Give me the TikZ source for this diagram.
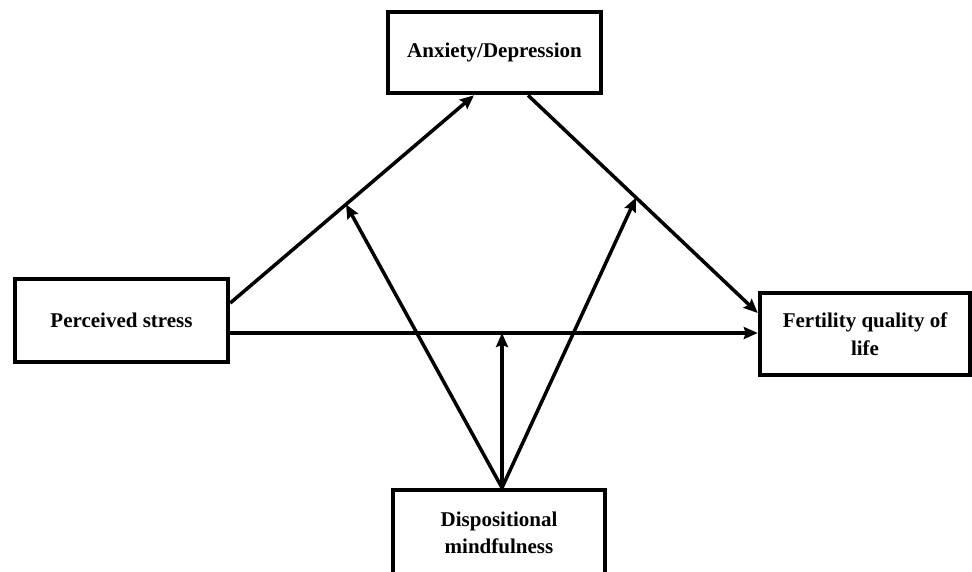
\documentclass[tikz,border=0pt]{standalone}
\usepackage{fontspec}
\setmainfont{Liberation Serif}
\usetikzlibrary{arrows.meta,calc}
\begin{document}
\begin{tikzpicture}[x=1pt,y=-1pt,
  box/.style={draw,line width=4.5pt,rectangle,align=center,inner sep=0pt,
    font=\fontsize{21pt}{27.5pt}\selectfont\bfseries},
  conn/.style={line width=3.5pt,-{Stealth[length=14pt,width=12pt,inset=2pt]}}]
\useasboundingbox[fill=white] (0,0) rectangle (972,571);
\node[box,minimum width=213pt,minimum height=81pt] (ad) at (494.5,52.5) {Anxiety/Depression};
\node[box,minimum width=213pt,minimum height=83pt] (ps) at (121.5,320.5) {Perceived stress};
\node[box,minimum width=210pt,minimum height=82pt] (fq) at (865,334) {Fertility quality of\\life};
\node[box,minimum width=212pt,minimum height=86pt] (dm) at (499,533) {Dispositional\\mindfulness};
% path endpoints on box borders
\coordinate (s1) at ([yshift=17.5pt]ps.east);
\coordinate (e1) at ([xshift=-20.5pt]ad.south);
\coordinate (s2) at ([yshift=-12.5pt]ps.east);
\coordinate (e2) at (s2 -| fq.west);
\coordinate (s3) at ([xshift=33.5pt]ad.south);
\coordinate (e3) at ([yshift=21pt]fq.west);
\coordinate (apex) at ([xshift=3pt]dm.north);
\draw[conn] (s1) -- (e1);
\draw[conn] (s2) -- (e2);
\draw[conn] (s3) -- (e3);
\coordinate (t1) at ($(s1)!0.475!(e1)$);
\coordinate (t2) at (apex |- s2);
\coordinate (t3) at ($(s3)!0.47!(e3)$);
\draw[conn] (apex) -- (t1);
\draw[conn] (apex) -- (t2);
\draw[conn] (apex) -- (t3);
\end{tikzpicture}
\end{document}
